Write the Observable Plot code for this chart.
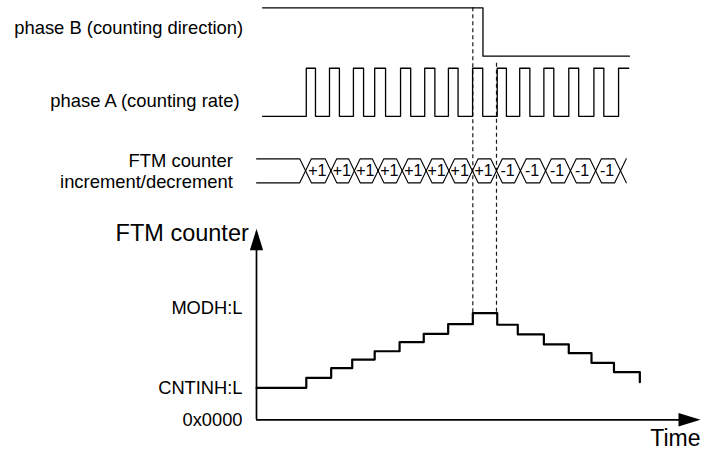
<!DOCTYPE html>
<html><head><meta charset="utf-8">
<script src="https://cdn.jsdelivr.net/npm/d3@7"></script>
<script src="https://cdn.jsdelivr.net/npm/@observablehq/plot@0.6"></script>
<style>html,body{margin:0;padding:0;background:#fff;} svg{display:block}</style>
</head><body><div id="chart"></div>
<script>
// ---------------- data ----------------
// phase B (counting direction): transition times and logic levels
const phaseBTimes = [0.25, 9.37, 15.43];
const phaseBLevels = [1, 0, 0];
// phase A (counting rate): start / end and edges
const phaseASpan = [0.25, 15.4];
const phaseARises = [2.06, 3.02, 4.01, 4.89, 5.96, 6.96, 7.94, 8.94, 9.96, 10.89, 11.89, 12.92, 13.96, 14.98];
const phaseAFalls = [2.44, 3.43, 4.43, 5.34, 6.38, 7.38, 8.34, 9.36, 10.34, 11.31, 12.3, 13.33, 14.37];
// FTM counter increment/decrement bus
const busStart = 0;
const busCrossings = [2.03, 3.08, 4.05, 5.03, 6.03, 7.02, 7.96, 8.93, 9.93, 10.92, 11.96, 12.99, 14.03, 15.06];
const busLabels = ["+1", "+1", "+1", "+1", "+1", "+1", "+1", "+1", "-1", "-1", "-1", "-1", "-1"];
// FTM counter staircase (counts above CNTIN)
const counterTimes = [0, 2.06, 3.09, 3.96, 4.89, 5.92, 6.92, 7.93, 8.95, 9.96, 10.81, 11.89, 12.92, 13.86, 14.79, 15.86];
const counterValues = [0, 1.07, 2.1, 3.03, 3.92, 4.89, 5.79, 6.82, 8, 6.76, 5.72, 4.65, 3.71, 2.68, 1.67, 0.6];
// dashed marker lines
const markerTimes = [8.95, 9.93];
// y-axis ticks
const yTickValues = [-3.43, 0, 8.55];
const yTickLabels = ["0x0000", "CNTINH:L", "MODH:L"];
// texts
const laneLabels = ["phase B (counting direction)", "phase A (counting rate)", "FTM counter\nincrement/decrement"];
const axisTitleY = "FTM counter";
const axisTitleX = "Time";

// ---------------- layout constants ----------------
const X_END = 18.37;      // time-axis arrow tip
const Y_ZERO = yTickValues[0];
const Y_TIP = 17.04;      // counter-axis arrow tip
const laneB = {lo: 35.54, hi: 40.73};
const laneA = {lo: 29.1, hi: 34.25};
const bus = {lo: 21.97, hi: 24.54};
const busMid = (bus.lo + bus.hi) / 2;
const busW = 0.24;
const FONT = "'Liberation Sans', Arial, Helvetica, sans-serif";

// ---------------- derived tables ----------------
const phaseB = phaseBTimes.map((t, i) => ({t, y: laneB.lo + phaseBLevels[i] * (laneB.hi - laneB.lo)}));
const phaseA = [{t: phaseASpan[0], v: 0}];
phaseARises.forEach((r, i) => {
  phaseA.push({t: r, v: 1});
  if (i < phaseAFalls.length) phaseA.push({t: phaseAFalls[i], v: 0});
});
phaseA.push({t: phaseASpan[1], v: 1});
phaseA.forEach(d => d.y = laneA.lo + d.v * (laneA.hi - laneA.lo));

const busLines = [];
let sid = 0;
const c0 = busCrossings[0];
for (const lvl of [bus.hi, bus.lo]) {
  sid++;
  busLines.push({s: sid, t: busStart, y: lvl}, {s: sid, t: c0 - busW, y: lvl}, {s: sid, t: c0, y: busMid});
}
for (let i = 0; i < busCrossings.length - 1; i++) {
  const a = busCrossings[i], b = busCrossings[i + 1];
  for (const lvl of [bus.hi, bus.lo]) {
    sid++;
    busLines.push({s: sid, t: a, y: busMid}, {s: sid, t: a + busW, y: lvl}, {s: sid, t: b - busW, y: lvl}, {s: sid, t: b, y: busMid});
  }
}
const cl = busCrossings[busCrossings.length - 1];
for (const lvl of [bus.hi, bus.lo]) {
  sid++;
  busLines.push({s: sid, t: cl, y: busMid}, {s: sid, t: cl + busW, y: lvl});
}
const busText = busLabels.map((label, i) => ({label, t: (busCrossings[i] + busCrossings[i + 1]) / 2}));

const counter = counterTimes.map((t, i) => ({t, v: counterValues[i]}));
const peak = d3.max(counterValues);
const markers = markerTimes.map((t, i) => ({t, top: i === 0 ? laneB.hi : laneA.hi + 0.55}));
const tickMap = new Map(yTickValues.map((v, i) => [v, yTickLabels[i]]));

const arrowUp = {draw(ctx) { ctx.moveTo(0, 0); ctx.lineTo(6.6, 21.5); ctx.lineTo(-6.6, 21.5); ctx.closePath(); }};
const arrowRight = {draw(ctx) { ctx.moveTo(0, 0); ctx.lineTo(-22, -6.7); ctx.lineTo(-22, 6.7); ctx.closePath(); }};

const leftLabels = [
  {text: laneLabels[0], y: 38.65, dx: -13.3},
  {text: laneLabels[1], y: 30.85, dx: -17},
  {text: laneLabels[2], y: 23.28, dx: -23.7}
];

const chart = Plot.plot({
  width: 702,
  height: 450,
  marginLeft: 256,
  marginRight: 2,
  marginTop: 7.3,
  marginBottom: 30.7,
  style: {fontFamily: FONT, background: "white", color: "black", overflow: "visible"},
  x: {domain: [0, X_END], axis: null},
  y: {domain: [Y_ZERO, laneB.hi], axis: null},
  marks: [
    // dashed marker lines
    Plot.ruleX(markers, {x: "t", y1: "top", y2: () => peak, stroke: "#1a1a1a", strokeWidth: 1.2, strokeDasharray: "4,3"}),
    // phase B
    Plot.line(phaseB, {x: "t", y: "y", curve: "step-after", stroke: "black", strokeWidth: 1.3}),
    // phase A
    Plot.line(phaseA, {x: "t", y: "y", curve: "step-after", stroke: "black", strokeWidth: 1.3}),
    // bus
    Plot.line(busLines, {x: "t", y: "y", z: "s", stroke: "black", strokeWidth: 1.1}),
    Plot.text(busText, {x: "t", y: () => busMid, text: "label", fontSize: 16, fill: "black", letterSpacing: "-1.8px", dx: -0.9}),
    // axes
    Plot.ruleX([0], {y1: Y_ZERO, y2: Y_TIP - 2.1, stroke: "black", strokeWidth: 1.7}),
    Plot.ruleY([Y_ZERO], {x1: 0, x2: X_END - 0.85, stroke: "black", strokeWidth: 1.7}),
    Plot.dot([{t: 0, v: Y_TIP}], {x: "t", y: "v", symbol: arrowUp, r: 5, fill: "black", stroke: null}),
    Plot.dot([{t: X_END, v: Y_ZERO}], {x: "t", y: "v", symbol: arrowRight, r: 5, fill: "black", stroke: null}),
    Plot.axisY(yTickValues, {anchor: "left", tickSize: 0, tickPadding: 14, fontSize: 18.3, label: null, tickFormat: d => tickMap.get(d)}),
    // counter staircase
    Plot.line(counter, {x: "t", y: "v", curve: "step-after", stroke: "black", strokeWidth: 2.2}),
    // titles
    Plot.text([axisTitleY], {x: () => 0, y: () => 16.5, text: d => d, textAnchor: "end", dx: -7.7, fontSize: 23.5, fill: "black"}),
    Plot.text([axisTitleX], {x: () => X_END, y: () => Y_ZERO, text: d => d, textAnchor: "end", dy: 19.3, fontSize: 23, fill: "black"}),
    Plot.text(leftLabels, {x: () => 0, y: "y", text: "text", textAnchor: "end", fontSize: 18.4, lineHeight: 1.12, fill: "black"})
  ]
});
document.getElementById("chart").appendChild(chart);
// per-label horizontal offsets (dx is a constant option in Plot, so apply per element)
const texts = chart.querySelectorAll("g[aria-label='text']");
const lastGroup = texts[texts.length - 1];
lastGroup.querySelectorAll(":scope > text").forEach((el, i) => {
  el.setAttribute("transform", (el.getAttribute("transform") || "") + ` translate(${leftLabels[i].dx},0)`);
});
</script></body></html>
